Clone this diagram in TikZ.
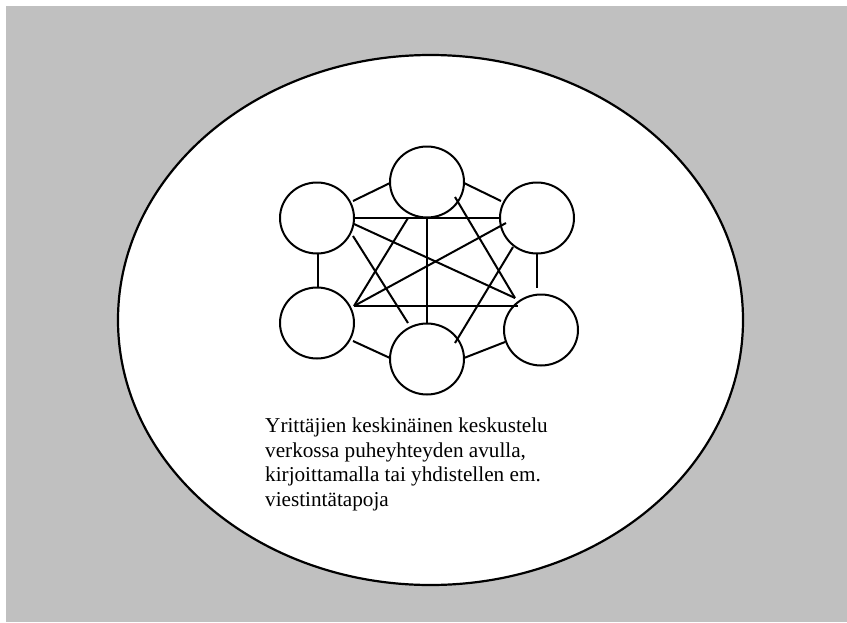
\documentclass[tikz,border=0pt]{standalone}
\usepackage{fontspec}
\setmainfont{Liberation Serif}
\usetikzlibrary{calc,shapes.geometric}
\begin{document}
\begin{tikzpicture}[x=1pt,y=-1pt,
  member/.style={draw,ellipse,line width=2pt,fill=white,minimum width=74pt,minimum height=71pt,inner sep=0pt},
  link/.style={line width=2pt},
  label/.style={anchor=north west,inner sep=0pt,align=left,font=\fontsize{21.2}{24.5}\selectfont}]
\useasboundingbox (0,0) rectangle (847,622);
\fill[white] (0,0) rectangle (847,622);
\fill[fill={rgb,255:red,192;green,192;blue,192}] (6,6) rectangle (847,622);
\draw[line width=2.2pt,fill=white] (430.5,320) ellipse [x radius=312.5, y radius=265];
% members
\node[member] (tl) at (317,218) {};
\node[member] (top) at (427,182) {};
\node[member] (tr) at (537,218) {};
\node[member] (bl) at (317,323) {};
\node[member] (bot) at (427,359) {};
\node[member] (br) at (541,330) {};
% outer ring
\draw[link] ($(tl)+(36,-17)$) -- ($(top)+(-37,1)$);
\draw[link] ($(top)+(37,1)$) -- ($(tr)+(-36,-17)$);
\draw[link] ($(tl)+(1,35)$) -- ($(bl)+(1,-36)$);
\draw[link] ($(tr)+(0,36)$) -- ($(br)+(-4,-42)$);
\draw[link] ($(bl)+(36,18)$) -- ($(bot)+(-37,-1)$);
\draw[link] ($(bot)+(37,-1)$) -- ($(br)+(-36,12)$);
% inner links
\draw[link] ($(tl)+(37,0)$) -- ($(tr)+(-36,0)$);
\draw[link] ($(bl)+(37,-17)$) -- ($(br)+(-23,-24)$);
\draw[link] ($(top)+(0,36)$) -- ($(bot)+(0,-36)$);
\draw[link] ($(tl)+(37,6)$) -- ($(br)+(-26,-32)$);
\draw[link] ($(tl)+(36,18)$) -- ($(bot)+(-19,-36)$);
\draw[link] ($(top)+(-19,36)$) -- ($(bl)+(37,-17)$);
\draw[link] ($(tr)+(-31,5)$) -- ($(bl)+(37,-17)$);
\draw[link] ($(top)+(28,15)$) -- ($(br)+(-26,-32)$);
\draw[link] ($(tr)+(-24,29)$) -- ($(bot)+(28,-16)$);
% caption
\node[label] (cap) at (265,417.7) {Yrittäjien keskinäinen keskustelu\\verkossa puheyhteyden avulla,\\kirjoittamalla tai yhdistellen em.\\viestintätapoja};
\end{tikzpicture}
\end{document}
